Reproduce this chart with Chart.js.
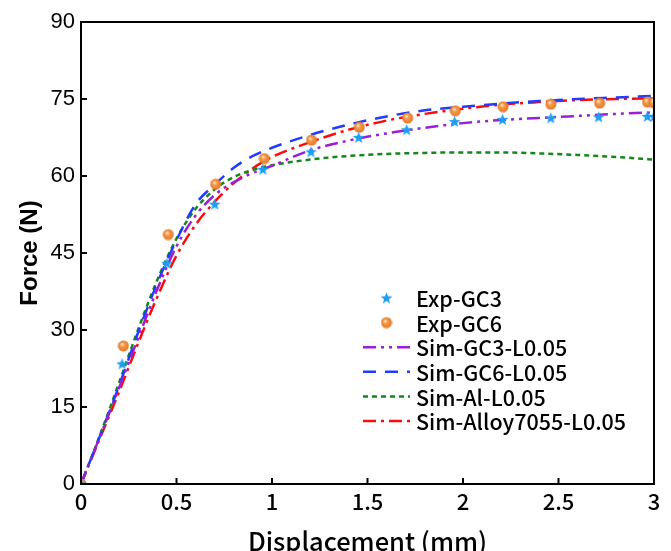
<!DOCTYPE html>
<html>
<head>
<meta charset="utf-8">
<script src="https://cdn.jsdelivr.net/npm/chart.js"></script>
<style>
  html, body { margin: 0; padding: 0; background: #fff; }
  #wrap { width: 671px; height: 551px; }
</style>
</head>
<body>
<div id="wrap"><canvas id="force-chart" width="671" height="551"></canvas></div>
<script>
// Simulated curves share one displacement grid (mm)
const simX     = [0, 0.1, 0.2, 0.3, 0.4, 0.5, 0.6, 0.7, 0.8, 0.9, 1.0, 1.2, 1.4, 1.6, 1.8, 2.0, 2.2, 2.4, 2.6, 2.8, 3.0];
const simGC3   = [0, 9.3, 18.8, 28.5, 38.0, 46.3, 52.3, 56.3, 58.8, 60.6, 62.0, 65.0, 66.9, 68.3, 69.4, 70.3, 70.9, 71.3, 71.7, 72.1, 72.4];
const simGC6   = [0, 9.4, 19.2, 29.6, 39.2, 47.5, 54.5, 58.3, 61.6, 63.9, 65.5, 68.0, 70.0, 71.6, 72.8, 73.5, 74.1, 74.6, 75.0, 75.3, 75.6];
const simAl    = [0, 9.6, 19.8, 30.2, 39.8, 47.8, 53.6, 57.4, 59.8, 61.2, 62.1, 63.2, 63.9, 64.3, 64.5, 64.6, 64.6, 64.4, 64.1, 63.7, 63.2];
const simAlloy = [0, 9.0, 18.0, 27.5, 36.5, 44.5, 50.5, 55.0, 58.6, 61.5, 63.7, 66.6, 69.0, 70.8, 72.1, 73.1, 73.9, 74.4, 74.8, 75.0, 75.1];

// Experimental points
const expGC3X = [0, 0.215, 0.45, 0.70, 0.952, 1.204, 1.454, 1.705, 1.956, 2.207, 2.46, 2.71, 2.965, 3.0];
const expGC3Y = [0, 23.4, 43.0, 54.5, 61.3, 64.7, 67.5, 69.0, 70.6, 71.0, 71.3, 71.5, 71.6, 71.6];
const expGC6X = [0, 0.222, 0.457, 0.705, 0.96, 1.207, 1.457, 1.71, 1.96, 2.21, 2.46, 2.715, 2.966, 3.0];
const expGC6Y = [0, 26.9, 48.6, 58.4, 63.4, 67.0, 69.5, 71.3, 72.7, 73.5, 74.0, 74.2, 74.4, 74.3];

const xTicks = [0, 0.5, 1, 1.5, 2, 2.5, 3];
const yTicks = [0, 15, 30, 45, 60, 75, 90];

const pairs = (xs, ys) => xs.map((x, i) => ({ x: x, y: ys[i] }));
const cjkFont = '"Noto Sans CJK SC", "Noto Sans", sans-serif';

// marker images: five point star and a shaded ball
function starImage() {
    const c = document.createElement('canvas');
    c.width = 13; c.height = 13;
    const g = c.getContext('2d');
    g.beginPath();
    for (let i = 0; i < 10; i++) {
        const r = i % 2 === 0 ? 6.2 : 2.6;
        const a = -Math.PI / 2 + i * Math.PI / 5;
        g.lineTo(6.5 + r * Math.cos(a), 6.9 + r * Math.sin(a));
    }
    g.closePath();
    g.fillStyle = '#1E9EF0';
    g.fill();
    return c;
}
function ballImage() {
    const c = document.createElement('canvas');
    c.width = 12; c.height = 12;
    const g = c.getContext('2d');
    const grad = g.createRadialGradient(4.6, 4.2, 0.4, 6, 6, 5.6);
    grad.addColorStop(0, '#FFE6CC');
    grad.addColorStop(0.35, '#F59A48');
    grad.addColorStop(1, '#E0782A');
    g.beginPath();
    g.arc(6, 6, 5.5, 0, Math.PI * 2);
    g.fillStyle = grad;
    g.fill();
    return c;
}
const starImg = starImage();
const ballImg = ballImage();

function simLine(label, ys, color, dash) {
    return {
        label: label,
        data: pairs(simX, ys),
        showLine: true,
        borderColor: color,
        backgroundColor: color,
        borderWidth: 2.5,
        borderDash: dash,
        pointRadius: 0,
        cubicInterpolationMode: 'monotone',
        fill: false
    };
}

// frame, inward ticks and the floating legend
const decorPlugin = {
    id: 'decor',
    afterDatasetsDraw(chart) {
        const { ctx, chartArea: a, scales } = chart;
        ctx.save();
        ctx.strokeStyle = '#000';
        ctx.lineWidth = 2;
        ctx.setLineDash([]);
        ctx.strokeRect(a.left, a.top, a.right - a.left, a.bottom - a.top);
        ctx.beginPath();
        xTicks.forEach(v => {
            const px = scales.x.getPixelForValue(v);
            ctx.moveTo(px, a.bottom);
            ctx.lineTo(px, a.bottom - 6);
        });
        yTicks.forEach(v => {
            const py = scales.y.getPixelForValue(v);
            ctx.moveTo(a.left, py);
            ctx.lineTo(a.left + 6, py);
        });
        ctx.stroke();

        // legend
        const lx0 = 363, lx1 = 410, tx = 416;
        let ly = 298;
        ctx.font = '500 21.5px ' + cjkFont;
        ctx.textBaseline = 'middle';
        ctx.textAlign = 'left';
        chart.data.datasets.forEach(ds => {
            if (ds.showLine) {
                ctx.strokeStyle = ds.borderColor;
                ctx.lineWidth = ds.borderWidth;
                ctx.setLineDash(ds.borderDash || []);
                ctx.beginPath();
                ctx.moveTo(lx0, ly);
                ctx.lineTo(lx1, ly);
                ctx.stroke();
            } else {
                const img = ds.pointStyle;
                ctx.drawImage(img, (lx0 + lx1) / 2 - img.width / 2, ly - img.height / 2);
            }
            ctx.setLineDash([]);
            ctx.fillStyle = '#000';
            ctx.fillText(ds.label, tx, ly + 1);
            ly += 24.6;
        });
        ctx.restore();
    }
};

const ctx = document.getElementById('force-chart').getContext('2d');
const forceChart = new Chart(ctx, {
    type: 'scatter',
    data: {
        datasets: [
            { label: 'Exp-GC3', data: pairs(expGC3X, expGC3Y), pointStyle: starImg, pointRadius: 6, showLine: false },
            { label: 'Exp-GC6', data: pairs(expGC6X, expGC6Y), pointStyle: ballImg, pointRadius: 6, showLine: false },
            simLine('Sim-GC3-L0.05', simGC3, '#9A1FD6', [13, 5, 3, 5, 3, 5]),
            simLine('Sim-GC6-L0.05', simGC6, '#1F3CFF', [13, 9]),
            simLine('Sim-Al-L0.05', simAl, '#15861A', [5, 4]),
            simLine('Sim-Alloy7055-L0.05', simAlloy, '#FF0A0A', [13, 5, 3, 5])
        ]
    },
    options: {
        responsive: false,
        animation: false,
        layout: { padding: { left: 0, right: 17, top: 22, bottom: 0 } },
        plugins: { legend: { display: false }, tooltip: { enabled: false } },
        scales: {
            x: {
                type: 'linear', min: 0, max: 3,
                afterFit: s => { s.height = 67; },
                afterBuildTicks: s => { s.ticks = xTicks.map(v => ({ value: v })); },
                grid: { display: false, drawTicks: false },
                border: { display: false },
                ticks: { color: '#000', padding: 4, maxRotation: 0, callback: v => String(v),
                         font: { family: cjkFont, size: 22, weight: '500' } },
                title: { display: true, text: 'Displacement (mm)', color: '#000', padding: { top: 0, bottom: -3 },
                         font: { family: cjkFont, size: 25.5, weight: '500', lineHeight: 1 } }
            },
            y: {
                type: 'linear', min: 0, max: 90,
                afterFit: s => { s.width = 81; },
                afterBuildTicks: s => { s.ticks = yTicks.map(v => ({ value: v })); },
                grid: { display: false, drawTicks: false },
                border: { display: false },
                ticks: { color: '#000', padding: 6, font: { family: '"Liberation Sans", Arial, sans-serif', size: 22 } },
                title: { display: true, text: 'Force (N)', color: '#000', padding: { top: 16, bottom: 0 },
                         font: { family: '"Liberation Sans", Arial, sans-serif', size: 24, weight: 'bold' } }
            }
        }
    },
    plugins: [decorPlugin]
});
</script>
</body>
</html>
